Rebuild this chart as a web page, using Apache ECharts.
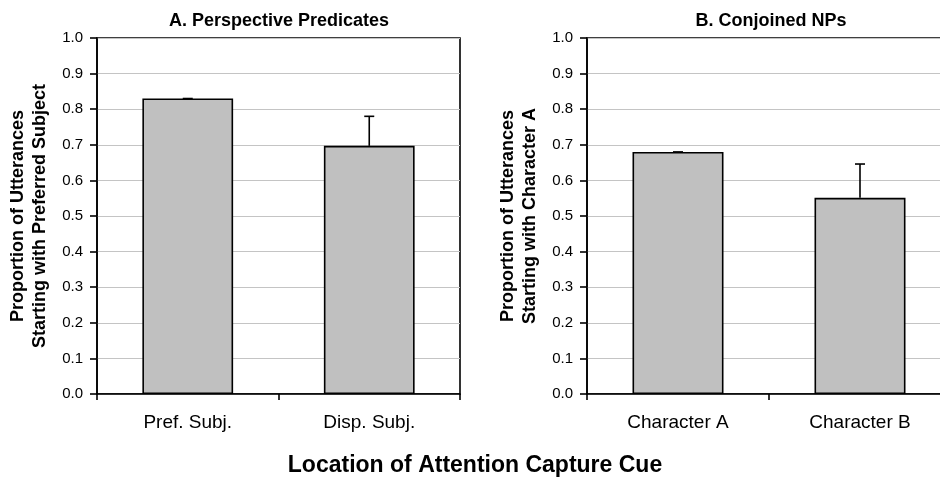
<!DOCTYPE html>
<html>
<head>
<meta charset="utf-8">
<script src="https://cdn.jsdelivr.net/npm/echarts@6/dist/echarts.min.js"></script>
<style>
  html, body { margin: 0; padding: 0; background: #fff; }
  #chart { width: 940px; height: 477px; }
</style>
</head>
<body>
<div id="chart"></div>
<script>
// Panel A: perspective predicates
const leftCategories = ['Pref. Subj.', 'Disp. Subj.'];
const leftMeans = [0.83, 0.697];
const leftUpper = [0.83, 0.78];

// Panel B: conjoined NPs
const rightCategories = ['Character A', 'Character B'];
const rightMeans = [0.68, 0.551];
const rightUpper = [0.68, 0.646];

const panelTitles = ['A. Perspective Predicates', 'B. Conjoined NPs'];
const yNames = [
  'Proportion of Utterances\nStarting with Preferred Subject',
  'Proportion of Utterances\nStarting with Character A'
];
const xTitle = 'Location of Attention Capture Cue';

const FONT = '"Liberation Sans", Arial, Helvetica, sans-serif';

function errorBarData(means, upper) {
  return means.map((m, i) => [i, m, upper[i]]);
}

function renderErrorBar(params, api) {
  const idx = api.value(0);
  const lo = api.coord([idx, api.value(1)]);
  const hi = api.coord([idx, api.value(2)]);
  const half = 5;
  const style = { stroke: '#000', lineWidth: 1.6 };
  return {
    type: 'group',
    children: [
      { type: 'line', shape: { x1: lo[0], y1: lo[1], x2: hi[0], y2: hi[1] }, style },
      { type: 'line', shape: { x1: hi[0] - half, y1: hi[1], x2: hi[0] + half, y2: hi[1] }, style }
    ]
  };
}

function xAxisFor(cats, gridIndex) {
  return {
    type: 'category',
    gridIndex,
    data: cats,
    boundaryGap: true,
    axisLine: { lineStyle: { color: '#000', width: 1.6 } },
    axisTick: { show: true, length: 6, lineStyle: { color: '#000', width: 1.6 } },
    axisLabel: { color: '#000', fontSize: 19, fontFamily: FONT, margin: 19 },
    splitLine: { show: false }
  };
}

function yAxisFor(name, gridIndex) {
  return {
    type: 'value',
    gridIndex,
    min: 0,
    max: 1,
    interval: 0.1,
    name,
    nameLocation: 'middle',
    nameRotate: 90,
    nameGap: 46,
    nameTextStyle: { color: '#000', fontSize: 18, fontWeight: 'bold', fontFamily: FONT, lineHeight: 22 },
    axisLine: { show: true, lineStyle: { color: '#000', width: 1.6 } },
    axisTick: { show: true, length: 7, lineStyle: { color: '#000', width: 1.6 } },
    axisLabel: { color: '#000', fontSize: 15, fontFamily: FONT, margin: 14, formatter: v => v.toFixed(1) },
    splitLine: { show: true, lineStyle: { color: '#c4c4c4', width: 1.2 } }
  };
}

const barStyle = { color: '#c0c0c0', borderColor: '#000', borderWidth: 1.6 };

const option = {
  backgroundColor: '#fff',
  animation: false,
  title: [
    { text: panelTitles[0], left: 274, top: 7, textAlign: 'center',
      textStyle: { color: '#000', fontSize: 18, fontWeight: 'bold', fontFamily: FONT } },
    { text: panelTitles[1], left: 766, top: 7, textAlign: 'center',
      textStyle: { color: '#000', fontSize: 18, fontWeight: 'bold', fontFamily: FONT } },
    { text: xTitle, left: 470, top: 449, textAlign: 'center',
      textStyle: { color: '#000', fontSize: 23, fontWeight: 'bold', fontFamily: FONT } }
  ],
  grid: [
    { left: 97, top: 38, width: 363, height: 356, outerBoundsMode: 'none', containLabel: false,
      show: true, borderColor: '#000', borderWidth: 1.6, backgroundColor: 'transparent' },
    { left: 587, top: 38, width: 364, height: 356, outerBoundsMode: 'none', containLabel: false,
      show: true, borderColor: '#000', borderWidth: 1.6, backgroundColor: 'transparent' }
  ],
  xAxis: [xAxisFor(leftCategories, 0), xAxisFor(rightCategories, 1)],
  yAxis: [yAxisFor(yNames[0], 0), yAxisFor(yNames[1], 1)],
  series: [
    { type: 'bar', xAxisIndex: 0, yAxisIndex: 0, data: leftMeans, barWidth: '50%', itemStyle: barStyle, z: 2 },
    { type: 'custom', xAxisIndex: 0, yAxisIndex: 0, data: errorBarData(leftMeans, leftUpper), renderItem: renderErrorBar, z: 3 },
    { type: 'bar', xAxisIndex: 1, yAxisIndex: 1, data: rightMeans, barWidth: '50%', itemStyle: barStyle, z: 2 },
    { type: 'custom', xAxisIndex: 1, yAxisIndex: 1, data: errorBarData(rightMeans, rightUpper), renderItem: renderErrorBar, z: 3 }
  ]
};

const chart = echarts.init(document.getElementById('chart'), null, { renderer: 'canvas' });
chart.setOption(option);
</script>
</body>
</html>
